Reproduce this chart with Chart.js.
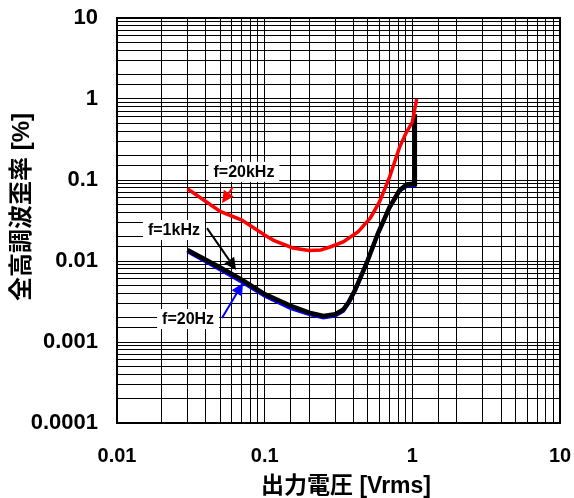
<!DOCTYPE html>
<html>
<head>
<meta charset="utf-8">
<script src="https://cdn.jsdelivr.net/npm/chart.js@4.4.0/dist/chart.umd.min.js"></script>
<style>
    html, body { margin: 0; padding: 0; background: #fff; }
</style>
</head>
<body>
<canvas id="thd-canvas" width="574" height="498"></canvas>
<script>
// Output voltage [Vrms] and THD [%]
var x20k = [0.03, 0.05, 0.07, 0.1, 0.115, 0.155, 0.2, 0.24, 0.28, 0.34, 0.43, 0.52, 0.6, 0.7, 0.82, 0.9, 1.0, 1.07];
var thd20k = [0.078, 0.041, 0.032, 0.021, 0.018, 0.0145, 0.0135, 0.0137, 0.015, 0.0172, 0.023, 0.034, 0.054, 0.108, 0.255, 0.37, 0.52, 1.0];

var x1k = [0.03, 0.05, 0.07, 0.1, 0.15, 0.2, 0.25, 0.3, 0.34, 0.37, 0.41, 0.49, 0.585, 0.7, 0.82, 0.92, 1.0, 1.04, 1.04];
var thd1k = [0.0137, 0.0083, 0.0059, 0.0039, 0.0028, 0.0023, 0.0021, 0.0022, 0.0025, 0.0031, 0.0044, 0.0094, 0.022, 0.046, 0.075, 0.088, 0.09, 0.09, 0.65];

var x20 = [0.03, 0.05, 0.07, 0.1, 0.15, 0.2, 0.25, 0.3, 0.34, 0.37, 0.41, 0.49, 0.585, 0.7, 0.82, 0.92, 1.0, 1.04, 1.04];
var thd20 = [0.0131, 0.0078, 0.0055, 0.0037, 0.0026, 0.0022, 0.002, 0.0021, 0.0024, 0.003, 0.0043, 0.0092, 0.0215, 0.045, 0.073, 0.085, 0.086, 0.086, 0.6];

var decadeLabels = ['0.0001', '0.001', '0.01', '0.1', '1', '10'];

var xTitle = '出力電圧 [Vrms]';
var yTitle = '全高調波歪率 [%]';

var FONT = "'Liberation Sans', Arial, 'Noto Sans CJK JP', sans-serif";

function toPoints(xs, ys) {
    return xs.map(function(v, i) { return { x: v, y: ys[i] }; });
}

function decadeTick(value) {
    var lg = Math.log10(value);
    if (Math.abs(lg - Math.round(lg)) > 1e-6) return '';
    var idx = Math.round(lg) + 4;
    return decadeLabels[idx] !== undefined ? decadeLabels[idx] : String(value);
}

// no extra room for overhanging tick labels, the plot area is fixed
function noOverhang(scale) {
    scale.paddingLeft = 0;
    scale.paddingRight = 0;
    scale.paddingTop = 0;
    scale.paddingBottom = 0;
}

// Callouts: label position, arrow start and arrow tip in data units
var notes = [
    { text: 'f=20kHz', at: [0.0724, 0.126], from: [0.061, 0.082], to: [0.0514, 0.052], color: '#ff0000' },
    { text: 'f=1kHz', at: [0.0243, 0.0241], from: [0.0407, 0.0255], to: [0.064, 0.00774], color: '#000000' },
    { text: 'f=20Hz', at: [0.0303, 0.00192], from: [0.0514, 0.00198], to: [0.0713, 0.00535], color: '#0000ff' }
];

var notePlugin = {
    id: 'notes',
    afterDatasetsDraw: function(chart) {
        var c = chart.ctx;
        var xs = chart.scales.x, ys = chart.scales.y;
        notes.forEach(function(n) {
            var lx = xs.getPixelForValue(n.at[0]), ly = ys.getPixelForValue(n.at[1]);
            c.save();
            c.font = 'bold 16px ' + FONT;
            var w = c.measureText(n.text).width;
            c.fillStyle = '#fff';
            c.fillRect(lx - w / 2 - 5, ly - 10, w + 10, 20);
            c.fillStyle = '#000';
            c.textAlign = 'center';
            c.textBaseline = 'middle';
            c.fillText(n.text, lx, ly + 1);

            var fx = xs.getPixelForValue(n.from[0]), fy = ys.getPixelForValue(n.from[1]);
            var tx = xs.getPixelForValue(n.to[0]), ty = ys.getPixelForValue(n.to[1]);
            var ang = Math.atan2(ty - fy, tx - fx);
            var hl = 12, hw = 6;
            var bx = tx - hl * Math.cos(ang), by = ty - hl * Math.sin(ang);
            c.strokeStyle = n.color;
            c.fillStyle = n.color;
            c.lineWidth = 2;
            c.beginPath();
            c.moveTo(fx, fy);
            c.lineTo(bx, by);
            c.stroke();
            c.beginPath();
            c.moveTo(tx, ty);
            c.lineTo(bx + hw * Math.sin(ang), by - hw * Math.cos(ang));
            c.lineTo(bx - hw * Math.sin(ang), by + hw * Math.cos(ang));
            c.closePath();
            c.fill();
            c.restore();
        });
    },
    afterDraw: function(chart) {
        var a = chart.chartArea, c = chart.ctx;
        c.save();
        c.strokeStyle = '#000';
        c.lineWidth = 2;
        c.strokeRect(a.left, a.top, a.right - a.left, a.bottom - a.top);

        // axis titles
        c.fillStyle = '#000';
        c.textAlign = 'center';
        c.textBaseline = 'middle';
        c.font = 'bold 23px ' + FONT;
        c.fillText(xTitle, 346, 487);
        c.translate(22, 207);
        c.rotate(-Math.PI / 2);
        c.font = 'bold 24px ' + FONT;
        c.fillText(yTitle, 0, 0);
        c.restore();
    }
};

var ctx = document.getElementById('thd-canvas').getContext('2d');
var chart = new Chart(ctx, {
    type: 'scatter',
    data: {
        datasets: [
            {
                label: 'f=20kHz',
                data: toPoints(x20k, thd20k),
                showLine: true,
                borderColor: '#ff0000',
                borderWidth: 3.5,
                pointRadius: 0,
                order: 1
            },
            {
                label: 'f=1kHz',
                data: toPoints(x1k, thd1k),
                showLine: true,
                borderColor: '#000000',
                borderWidth: 4.5,
                pointRadius: 0,
                order: 2
            },
            {
                label: 'f=20Hz',
                data: toPoints(x20, thd20),
                showLine: true,
                borderColor: '#0000ff',
                borderWidth: 3.5,
                pointRadius: 0,
                order: 3
            }
        ]
    },
    options: {
        responsive: false,
        animation: false,
        devicePixelRatio: 1,
        layout: { padding: { top: 18, right: 14, left: 0, bottom: 0 } },
        plugins: {
            legend: { display: false },
            tooltip: { enabled: false }
        },
        scales: {
            x: {
                type: 'logarithmic',
                min: 0.01,
                max: 10,
                border: { color: '#000', width: 2 },
                grid: { color: '#000', lineWidth: 1, drawTicks: false },
                ticks: {
                    autoSkip: false,
                    maxRotation: 0,
                    padding: 21,
                    color: '#000',
                    font: { family: FONT, size: 20, weight: 'bold' },
                    callback: function(v) { return decadeTick(v); }
                },
                afterFit: function(scale) { scale.height = 75; noOverhang(scale); }
            },
            y: {
                type: 'logarithmic',
                min: 0.0001,
                max: 10,
                border: { color: '#000', width: 2 },
                grid: { color: '#000', lineWidth: 1, drawTicks: false },
                ticks: {
                    autoSkip: false,
                    padding: 19,
                    color: '#000',
                    font: { family: FONT, size: 22, weight: 'bold' },
                    callback: function(v) { return decadeTick(v); }
                },
                afterFit: function(scale) { scale.width = 117; noOverhang(scale); }
            }
        }
    },
    plugins: [notePlugin]
});
</script>
</body>
</html>
